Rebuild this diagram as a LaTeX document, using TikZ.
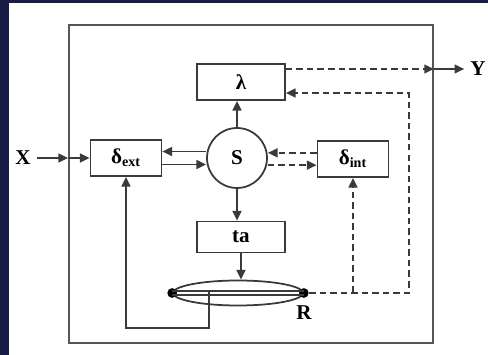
\documentclass[tikz,border=0pt]{standalone}
\usepackage{fontspec}
\setmainfont{Liberation Serif}
\usetikzlibrary{positioning, arrows.meta, calc, shapes.geometric}
\definecolor{navy}{HTML}{161B47}
\definecolor{ink}{HTML}{3A3A3A}
\definecolor{framegray}{HTML}{555555}

\begin{document}
\begin{tikzpicture}[
    x=0.02cm, y=-0.02cm,
    block/.style={rectangle, draw=ink, line width=1pt, fill=white,
                  minimum width=1.76cm, minimum height=0.72cm, inner sep=0pt,
                  font=\large\bfseries},
    statenode/.style={circle, draw=ink, line width=1pt, minimum size=1.2cm,
                  inner sep=0pt, font=\large\bfseries},
    lbl/.style={font=\large\bfseries},
    arrow/.style={-{Triangle[length=5.5pt, width=5pt]}, line width=1pt, ink},
    darrow/.style={arrow, dash pattern=on 3.7pt off 2.3pt},
    blob/.style={circle, fill=black, minimum size=5.5pt, inner sep=0pt}
  ]
    % page and margins
    \fill[navy] (0,0) rectangle (488,355);
    \fill[white] (9,3) rectangle (488,355);
    \useasboundingbox (0,0) rectangle (488,355);

    \node[draw=framegray, line width=1.1pt, minimum width=7.28cm, minimum height=6.36cm] (model) at (251,184) {};

    \node[block] (lam) at (241,82) {λ};
    \node[statenode] (s) at (237,158) {S};
    \node[block, minimum width=1.42cm] (dext) at (126,158) {δ\textsubscript{ext}};
    \node[block, minimum width=1.42cm] (dint) at (353,159) {δ\textsubscript{int}};
    \node[block, minimum height=0.62cm] (ta) at (241,237) {ta};
    \node[ellipse, draw=ink, line width=1pt, minimum width=2.6cm, minimum height=0.5cm] (r) at (238,293) {};
    \node[blob] (rl) at (r.west) {};
    \node[blob] (rr) at (r.east) {};
    \node[lbl, below=1pt of rr] (rlab) {R};

    \node[lbl] (x) at (23,158) {X};
    \node[lbl] (y) at (478,69) {Y};

    % input and output
    \draw[arrow] (x) -- (x -| model.west);
    \draw[arrow] (x -| model.west) -- (dext);
    \draw[darrow] (lam.east |- y) -- (model.east |- y);
    \draw[arrow] (model.east |- y) -- (y);

    % state links
    \draw[arrow] ([yshift=3.7pt]s.west) -- ([yshift=3.7pt]dext.east);
    \draw[arrow] ([yshift=-3.7pt]dext.east) -- ([yshift=-3.7pt]s.west);
    \draw[darrow] ([yshift=3.5pt]dint.west) -- ([yshift=3.5pt]dint.west -| s.east);
    \draw[darrow] ([yshift=-3.5pt]dint.west -| s.east) -- ([yshift=-3.5pt]dint.west);
    \draw[arrow] (s) -- (s |- lam.south);
    \draw[arrow] (s) -- (s |- ta.north);
    \draw[arrow] (ta) -- (ta |- r.north);

    % R and feedback
    \draw[ink, line width=1pt] ([yshift=1.3pt]rl.center) -- ([yshift=1.3pt]rr.center);
    \draw[ink, line width=1pt] ([yshift=-1.3pt]rl.center) -- ([yshift=-1.3pt]rr.center);
    \coordinate (tap) at (209,291);
    \coordinate (loop) at (209,328);
    \draw[arrow] (tap) -- (loop) -| (dext.south);

    \coordinate (c1) at (409,293);
    \coordinate (c2) at (409,93);
    \coordinate (c3) at (dint.south |- rr);
    \draw[darrow] (rr) -- (c1) -- (c2) -- (c2 -| lam.east);
    \draw[darrow] (c3) -- (dint.south);
  \end{tikzpicture}
\end{document}
